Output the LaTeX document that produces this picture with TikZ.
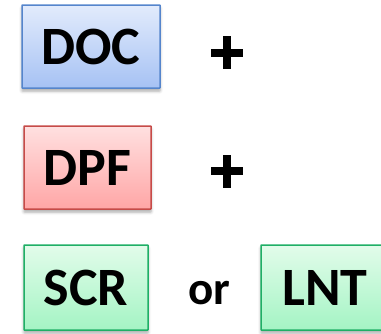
\documentclass[tikz,border=0pt]{standalone}
\usepackage{fontspec}
\setmainfont{Carlito}
\usetikzlibrary{shadows.blur}

\definecolor{docTop}{HTML}{E2EBFC}
\definecolor{docBot}{HTML}{A6C2F4}
\definecolor{docLine}{HTML}{5585CC}
\definecolor{dpfTop}{HTML}{FFE0E0}
\definecolor{dpfBot}{HTML}{FFA6A6}
\definecolor{dpfLine}{HTML}{C64B48}
\definecolor{grnTop}{HTML}{E2FCEA}
\definecolor{grnBot}{HTML}{A4F4C4}
\definecolor{grnLine}{HTML}{1FAF66}

\tikzset{
  unit/.style={draw, line width=1.5pt, rounded corners=0.5pt, inner sep=0pt,
    font=\fontsize{54}{54}\selectfont\bfseries,
    blur shadow={shadow xshift=0pt, shadow yshift=-3pt, shadow blur radius=3pt,
      shadow opacity=35}},
  docbox/.style={unit, draw=docLine, top color=docTop, bottom color=docBot},
  dpfbox/.style={unit, draw=dpfLine, top color=dpfTop, bottom color=dpfBot},
  grnbox/.style={unit, draw=grnLine, top color=grnTop, bottom color=grnBot},
  plussign/.style={fill=black, inner sep=0pt, minimum width=32pt, minimum height=8pt},
  word/.style={font=\fontsize{47}{47}\selectfont\bfseries},
}

\begin{document}
\begin{tikzpicture}[x=1pt, y=-1pt]
  \useasboundingbox (0,0) rectangle (381,333);

  % component boxes
  \node[docbox, minimum width=138pt, minimum height=83pt] (doc) at (91,46.5) {DOC};
  \node[dpfbox, minimum width=127pt, minimum height=83pt] (dpf) at (87.5,167.5) {DPF};
  \node[grnbox, minimum width=124pt, minimum height=85pt] (scr) at (86,287.5) {SCR};
  \node[grnbox, minimum width=128pt, minimum height=85pt] (lnt) at (325,287.5) {LNT};

  % "+" signs between the rows
  \node[plussign] (p1h) at (227,52.5) {};
  \node[plussign, minimum width=8pt, minimum height=33pt] (p1v) at (227,52.5) {};
  \node[plussign] (p2h) at (227,171) {};
  \node[plussign, minimum width=8pt, minimum height=33pt] (p2v) at (227,171) {};

  % alternative
  \node[word] (or) at (209,293) {or};
\end{tikzpicture}
\end{document}
